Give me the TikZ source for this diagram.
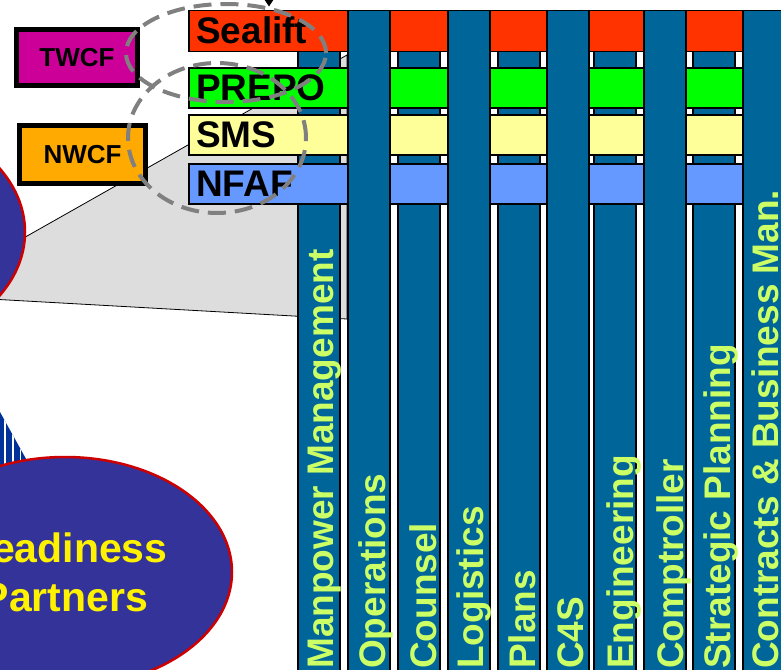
\documentclass[tikz,border=0pt]{standalone}
\usepackage{fontspec}
\setmainfont{Liberation Sans}
\usetikzlibrary{shapes.geometric,arrows.meta}

\definecolor{deptblue}{HTML}{006699}
\definecolor{deptgreen}{HTML}{CCFF66}
\definecolor{sealred}{HTML}{FF3300}
\definecolor{prepogreen}{HTML}{00FF00}
\definecolor{smsyellow}{HTML}{FFFF99}
\definecolor{nfafblue}{HTML}{6699FF}
\definecolor{twcfmag}{HTML}{CC0099}
\definecolor{nwcforange}{HTML}{FFAA00}
\definecolor{partblue}{HTML}{333399}
\definecolor{partred}{HTML}{CC0000}
\definecolor{bandblue}{HTML}{003399}
\definecolor{callgray}{HTML}{DDDDDD}
\definecolor{dashgray}{HTML}{808080}

\tikzset{
  deptbar/.style={draw=black, line width=1.5pt, fill=deptblue, anchor=north west,
    minimum width=42pt, minimum height=700pt, inner sep=0pt},
  fundbar/.style={draw=black, line width=1.5pt, anchor=north west,
    minimum width=610pt, minimum height=40pt, inner sep=0pt},
  deptlabel/.style={rotate=90, anchor=base west, inner sep=0pt, text=deptgreen,
    font=\bfseries\fontsize{37}{40}\selectfont},
  fundlabel/.style={anchor=base west, inner sep=0pt,
    font=\bfseries\fontsize{37}{40}\selectfont},
  wcfbox/.style={draw=black, line width=5pt, inner sep=0pt,
    font=\bfseries\fontsize{26}{30}\selectfont},
  partnerell/.style={shape=ellipse, draw=partred, line width=2.5pt, fill=partblue,
    minimum width=334pt, minimum height=230pt, inner sep=0pt, text=yellow, align=center,
    font=\bfseries\fontsize{41}{49}\selectfont},
  hilite/.style={shape=ellipse, draw=dashgray, line width=4pt, dash pattern=on 18pt off 9pt,
    inner sep=0pt}
}

\begin{document}
\begin{tikzpicture}[x=1pt,y=-1pt]
  \useasboundingbox (0,0) rectangle (781,669);
  \clip (0,0) rectangle (781,669);

  % callout from the upper ellipse to the matrix
  \coordinate (zoomtop) at (347,55);
  \coordinate (zoombot) at (347,319);
  \filldraw[fill=callgray, draw=black, line width=0.8pt] (-10,257) -- (zoomtop) -- (zoombot) -- (-10,299) -- cycle;
  \node[partnerell, minimum height=240pt] (upper) at (-142,232) {};

  % striped link down to the readiness partners
  \begin{scope}
    \clip (-50,322) -- (40,484) -- (-40,484) -- (-130,322) -- cycle;
    \fill[bandblue] (-130,300) rectangle (60,500);
    \foreach \x in {5,12.7,...,45}
      \draw[white, line width=1.8pt] (\x,300) -- (\x,500);
  \end{scope}
  \node[partnerell] (readiness) at (65,572) {Readiness\\Partners};

  \node[wcfbox, fill=twcfmag, minimum width=121pt, minimum height=56pt] (twcf) at (77,57.5) {TWCF};
  \node[wcfbox, fill=nwcforange, minimum width=126pt, minimum height=58pt] (nwcf) at (82.5,154.5) {NWCF};

  % departments under the fund bars
  \node[deptbar] (manpower) at (297,10) {};
  \node[deptbar] (counsel) at (397,10) {};
  \node[deptbar] (plans) at (497,10) {};
  \node[deptbar] (engineering) at (593,10) {};
  \node[deptbar] (strategic) at (692,10) {};

  % fund bars
  \node[fundbar, fill=sealred, minimum height=41pt] (sealift) at (188,10) {};
  \node[fundbar, fill=prepogreen] (prepo) at (188,67) {};
  \node[fundbar, fill=smsyellow] (sms) at (188,114) {};
  \node[fundbar, fill=nfafblue] (nfaf) at (188,163) {};

  % departments over the fund bars
  \node[deptbar] (operations) at (347,10) {};
  \node[deptbar] (logistics) at (447,10) {};
  \node[deptbar] (cfours) at (546,10) {};
  \node[deptbar] (comptroller) at (643,10) {};
  \node[deptbar] (contracts) at (742,10) {};

  \node[deptlabel] at (333,669) {Manpower Management};
  \node[deptlabel] at (385,669) {Operations};
  \node[deptlabel] at (436,669) {Counsel};
  \node[deptlabel] at (483,669) {Logistics};
  \node[deptlabel] at (535,669) {Plans};
  \node[deptlabel] at (583,669) {C4S};
  \node[deptlabel] at (633,669) {Engineering};
  \node[deptlabel] at (683,669) {Comptroller};
  \node[deptlabel] at (730,669) {Strategic Planning};
  \node[deptlabel] at (778,669) {Contracts \& Business Man.};

  \node[fundlabel] at (196,44) {Sealift};
  \node[fundlabel] at (196,100.5) {PREPO};
  \node[fundlabel] at (196,147.5) {SMS};
  \node[fundlabel] at (196,196.5) {NFAF};

  \node[hilite, minimum width=200pt, minimum height=98pt] (hlsea) at (226,53) {};
  \node[hilite, minimum width=178pt, minimum height=150pt] (hlnwcf) at (217,138) {};

  \coordinate (feed) at (269,-30);
  \draw[-{Triangle[width=9pt,length=7pt]}, line width=1pt, shorten >=3.5pt] (feed) -- (feed |- sealift.north);
\end{tikzpicture}
\end{document}
